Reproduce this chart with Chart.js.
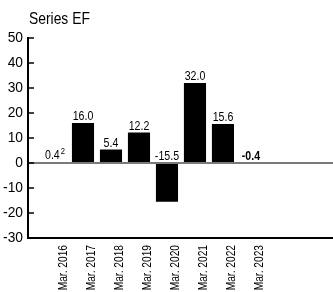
<!DOCTYPE html>
<html>
<head>
<meta charset="utf-8">
<script src="https://cdn.jsdelivr.net/npm/chart.js@4/dist/chart.umd.min.js"></script>
<style>
  html, body { margin: 0; padding: 0; background: #fff; }
  #wrap { position: relative; width: 333px; height: 292px; }
  #title { position: absolute; left: 29px; top: 8px; font-family: 'Liberation Sans', Arial, sans-serif; font-size: 16.5px; color: #000; line-height: 20px; transform: scaleX(0.84); transform-origin: 0 0; white-space: nowrap; }
  canvas { display: block; }
</style>
</head>
<body>
<div id="wrap">
  <div id="title">Series EF</div>
  <canvas id="c" width="333" height="292"></canvas>
</div>
<script>
const categories = ['Mar. 2016', 'Mar. 2017', 'Mar. 2018', 'Mar. 2019', 'Mar. 2020', 'Mar. 2021', 'Mar. 2022', 'Mar. 2023'];
const seriesValues = [0.4, 16.0, 5.4, 12.2, -15.5, 32.0, 15.6, -0.4];
const footnotes = ['2', '', '', '', '', '', '', ''];
const boldLabels = [false, false, false, false, false, false, false, true];
const yTicks = [50, 40, 30, 20, 10, 0, -10, -20, -30];

const FONT = "'Liberation Sans', Arial, sans-serif";
const Y_FONT_SIZE = 15;
const LABEL_SHIFT = 0.32; // x tick labels sit under the right part of each bar

function narrowFor(fontStr) {
  const m = /([\d.]+)px/.exec(fontStr);
  const size = m ? parseFloat(m[1]) : 12;
  return size === Y_FONT_SIZE ? 0.92 : 0.85;
}

const canvas = document.getElementById('c');
const ctx0 = canvas.getContext('2d');
const protoFill = CanvasRenderingContext2D.prototype.fillText;
ctx0.fillText = function (text, x, y) {
  this.save();
  this.translate(x, y);
  this.scale(narrowFor(this.font), 1);
  protoFill.call(this, text, 0, 0);
  this.restore();
};

const valueLabelPlugin = {
  id: 'valueLabels',
  afterDatasetsDraw(chart) {
    const ctx = chart.ctx;
    const meta = chart.getDatasetMeta(0);
    const zeroY = chart.scales.y.getPixelForValue(0);
    ctx.save();
    meta.data.forEach((bar, i) => {
      const txt = seriesValues[i].toFixed(1);
      const top = Math.min(bar.y, zeroY);
      const mainFont = (boldLabels[i] ? 'bold ' : '') + '12.5px ' + FONT;
      const supFont = '9px ' + FONT;
      ctx.font = mainFont;
      const w = ctx.measureText(txt).width * narrowFor(mainFont);
      let supW = 0;
      if (footnotes[i]) {
        ctx.font = supFont;
        supW = ctx.measureText(footnotes[i]).width * narrowFor(supFont) + 1;
      }
      const startX = bar.x - (w + supW) / 2;
      ctx.fillStyle = '#000';
      ctx.textBaseline = 'alphabetic';
      ctx.textAlign = 'left';
      ctx.font = mainFont;
      ctx.fillText(txt, startX, top - 3);
      if (footnotes[i]) {
        ctx.font = supFont;
        ctx.fillText(footnotes[i], startX + w + 1, top - 8);
      }
    });
    ctx.restore();
  }
};

const axisPlugin = {
  id: 'axisDecor',
  afterDraw(chart) {
    const ctx = chart.ctx;
    const a = chart.chartArea;
    const yScale = chart.scales.y;
    ctx.save();
    ctx.strokeStyle = '#000';
    ctx.lineWidth = 2;
    ctx.beginPath();
    ctx.moveTo(a.left, a.top - 1);
    ctx.lineTo(a.left, a.bottom);
    ctx.stroke();
    ctx.beginPath();
    ctx.moveTo(a.left - 1, a.bottom);
    ctx.lineTo(a.right, a.bottom);
    ctx.stroke();
    ctx.lineWidth = 1.5;
    yTicks.forEach(t => {
      if (t === yTicks[yTicks.length - 1]) return;
      const y = yScale.getPixelForValue(t);
      ctx.beginPath();
      ctx.moveTo(a.left, y);
      ctx.lineTo(a.left + 6, y);
      ctx.stroke();
    });
    ctx.restore();
  }
};

const points = seriesValues.map((v, i) => ({ x: i, y: v }));

new Chart(canvas, {
  type: 'bar',
  data: {
    datasets: [{
      data: points,
      backgroundColor: '#000',
      borderWidth: 0,
      barPercentage: 0.79,
      categoryPercentage: 1.0
    }]
  },
  options: {
    responsive: false,
    animation: false,
    devicePixelRatio: 1,
    layout: { padding: { top: 38, right: 0, left: 0, bottom: 0 } },
    plugins: { legend: { display: false }, tooltip: { enabled: false }, title: { display: false } },
    scales: {
      x: {
        type: 'linear',
        offset: false,
        min: -0.964,
        max: 9.93,
        afterFit(scale) { scale.height = 292 - 238; },
        afterBuildTicks(scale) { scale.ticks = categories.map((c, i) => ({ value: i + LABEL_SHIFT })); },
        grid: { display: false, drawTicks: false, offset: false },
        border: { display: false },
        ticks: {
          autoSkip: false,
          minRotation: 90,
          maxRotation: 90,
          padding: 7,
          color: '#000',
          font: { family: FONT, size: 12 },
          callback: (v) => {
            const c = categories[Math.round(v - LABEL_SHIFT)];
            return c !== undefined ? c : '';
          }
        }
      },
      y: {
        min: -30,
        max: 50,
        afterFit(scale) { scale.width = 28; },
        afterBuildTicks(scale) { scale.ticks = yTicks.map(v => ({ value: v })); },
        grid: {
          drawTicks: false,
          lineWidth: (c) => (c.tick && c.tick.value === 0) ? 2 : 0,
          color: (c) => (c.tick && c.tick.value === 0) ? '#7a7a7a' : 'rgba(0,0,0,0)'
        },
        border: { display: false },
        ticks: {
          padding: 5,
          color: '#000',
          font: { family: FONT, size: Y_FONT_SIZE },
          callback: (v) => String(v)
        }
      }
    }
  },
  plugins: [valueLabelPlugin, axisPlugin]
});
</script>
</body>
</html>
